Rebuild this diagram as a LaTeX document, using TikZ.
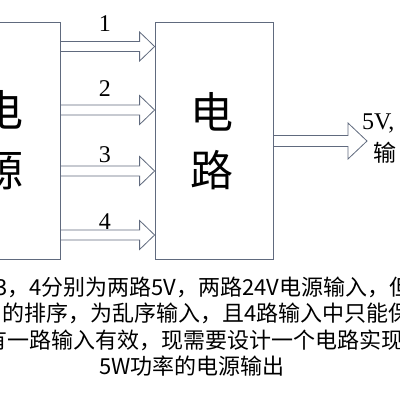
\documentclass[tikz,border=0pt]{standalone}
\usepackage{fontspec}
\setmainfont{Liberation Serif}
\newfontfamily\cjk{Noto Sans CJK SC}
\usetikzlibrary{calc}
\definecolor{linecol}{RGB}{96,106,126}

\begin{document}
\begin{tikzpicture}[
    x=1pt, y=-1pt,
    box/.style={draw=linecol, line width=0.8pt, inner sep=0pt, minimum height=237pt},
    fat arrow/.style={draw=linecol, line width=0.8pt, line join=miter},
    big char/.style={font=\cjk\fontsize{43}{43}\selectfont, inner sep=0pt},
    num label/.style={font=\fontsize{24}{24}\selectfont, inner sep=0pt},
    note line/.style={font=\cjk\fontsize{22}{22}\selectfont, inner sep=0pt},
    every node/.style={color=black}
    ]
    \useasboundingbox (0,0) rectangle (400,400);
    \clip (0,0) rectangle (400,400);

    % boxes
    \node[box, minimum width=100pt] (src) at (10,140.5) {};
    \node[box, minimum width=118pt] (ckt) at (214,140.5) {};
    \node[big char] (srcA) at (2,110) {电};
    \node[big char] (srcB) at (2,170) {源};
    \node[big char] (cktA) at (212,112) {电};
    \node[big char] (cktB) at (212,170) {路};

    % four inputs
    \foreach \c/\ly/\n in {46.5/24/1, 110/88.5/2, 171/155/3, 235/222/4} {
        \coordinate (s\n) at (src.east |- 0,\c);
        \coordinate (t\n) at (ckt.west |- 0,\c);
        \draw[fat arrow] ($(s\n)+(0,-5)$) -- ($(t\n)+(-15,-5)$) -- ($(t\n)+(-15,-14.5)$)
            -- (t\n) -- ($(t\n)+(-15,14.5)$) -- ($(t\n)+(-15,5)$) -- ($(s\n)+(0,5)$);
        \node[num label] (l\n) at (105,\ly) {\n};
    }

    % output
    \coordinate (o1) at (ckt.east |- 0,141);
    \coordinate (o2) at (367,141);
    \draw[fat arrow] ($(o1)+(0,-5.5)$) -- ($(o2)+(-19,-5.5)$) -- ($(o2)+(-19,-18)$)
        -- (o2) -- ($(o2)+(-19,18)$) -- ($(o2)+(-19,5.5)$) -- ($(o1)+(0,5.5)$);
    \node[num label, anchor=west] (outA) at (362,123) {5V,};
    \node[num label, font=\cjk\fontsize{23}{23}\selectfont, anchor=west] (outB) at (373,153) {输};

    % text below
    \node[note line, anchor=west] (t1) at (-5,287) {3，4分别为两路5V，两路24V电源输入，但};
    \node[note line, anchor=west] (t2) at (2,313.5) {的排序，为乱序输入，且4路输入中只能保};
    \node[note line, anchor=west] (t3) at (-15,340) {有一路输入有效，现需要设计一个电路实现};
    \node[note line] (t4) at (192,366) {5W功率的电源输出};
\end{tikzpicture}
\end{document}
